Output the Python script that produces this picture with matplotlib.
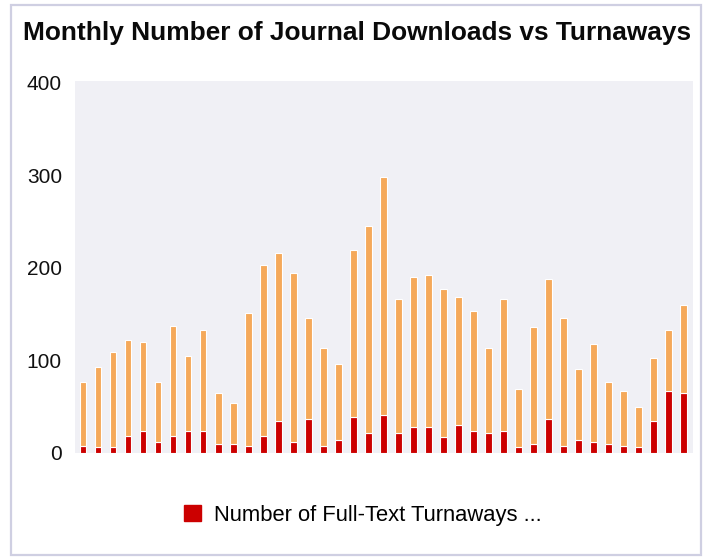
import matplotlib
matplotlib.use("Agg")
import matplotlib.pyplot as plt
from matplotlib.patches import Rectangle, Patch
import numpy as np

# Data
turnaways = [7.5, 6, 6, 18, 23, 12, 18, 23, 23, 9, 9, 7.5, 18, 34, 12, 36, 7.5, 14,
             39, 21, 41, 21, 28, 28, 16.5, 30, 23, 21, 23, 6, 9.7, 36, 7.5, 14, 12,
             9.7, 7.5, 6, 34, 67, 65]
totals = [76, 93, 109, 122, 120, 76, 137, 104.5, 132.6, 65, 54, 150.6, 203, 216.5,
          194, 146, 113, 96, 219, 245, 298, 166, 190, 192, 177, 168, 153, 113, 166,
          69, 135.5, 188, 146, 91, 118, 76, 67, 49, 102, 133, 160]
downloads = [t - r for t, r in zip(totals, turnaways)]
yticks = [0, 100, 200, 300, 400]
title = "Monthly Number of Journal Downloads vs Turnaways"
legend_label = "Number of Full-Text Turnaways ..."

RED = "#cc0000"
ORANGE = "#f5a95a"
BG = "#f0f0f5"

W, H = 707, 557
fig = plt.figure(figsize=(W / 100, H / 100), dpi=100)
fig.patch.set_facecolor("white")

# outer border
fig.add_artist(Rectangle((11 / W, 1 - 555 / H), (701 - 11) / W, (555 - 5) / H,
                         transform=fig.transFigure, fill=False,
                         edgecolor="#cfcfe2", linewidth=1.6))

ax = fig.add_axes([75 / W, 1 - 452.7 / H, (692.7 - 75) / W, (452.7 - 81) / H])
ax.set_facecolor(BG)
x = np.arange(len(totals))
ax.bar(x, turnaways, width=0.45, color=RED, edgecolor="white", linewidth=0.8)
ax.bar(x, downloads, bottom=turnaways, width=0.45, color=ORANGE,
       edgecolor="white", linewidth=0.8)
ax.set_xlim(-0.53, 40.6)
ax.set_ylim(0, 402)
ax.set_yticks(yticks)
ax.set_yticklabels([str(v) for v in yticks], fontsize=15,
                   fontfamily="Liberation Sans", color="#111111")
ax.tick_params(axis="y", length=0, pad=9.4)
ax.set_xticks([])
for s in ax.spines.values():
    s.set_visible(False)

fig.text(357.5 / W, 1 - 33 / H, title, ha="center", va="center",
         fontsize=18.9, fontweight="bold", fontfamily="Liberation Sans",
         color="#0a0a0a")

handle = Patch(facecolor=RED, edgecolor=RED)
fig.legend([handle], [legend_label], loc="center", bbox_to_anchor=(363 / W, 1 - 515 / H),
           frameon=False, prop={"family": "Liberation Sans", "size": 15.8},
           handlelength=0.75, handleheight=0.75, handletextpad=0.6)

fig.savefig("out.png", dpi=100)
